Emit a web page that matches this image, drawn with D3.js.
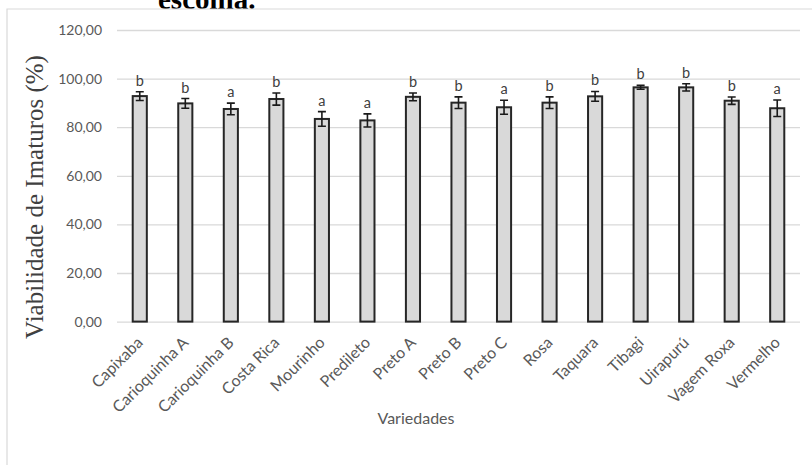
<!DOCTYPE html>
<html>
<head>
<meta charset="utf-8">
<script src="https://cdn.jsdelivr.net/npm/d3@7"></script>
<style>
  html, body { margin: 0; padding: 0; background: #fff; }
  svg { display: block; }
</style>
</head>
<body>
<svg id="chart" width="812" height="465"></svg>
<script>
// Viabilidade de imaturos por variedade (média ± erro, letras de agrupamento)
const categories = ["Capixaba", "Carioquinha A", "Carioquinha B", "Costa Rica", "Mourinho",
  "Predileto", "Preto A", "Preto B", "Preto C", "Rosa", "Taquara", "Tibagi", "Uirapurú",
  "Vagem Roxa", "Vermelho"];
const means = [92.8, 89.8, 87.5, 91.6, 83.4, 82.8, 92.5, 90.1, 88.2, 90.1, 92.7, 96.4, 96.4, 90.9, 87.8];
const errors = [1.8, 2.0, 2.4, 2.5, 3.0, 2.7, 1.6, 2.4, 2.9, 2.4, 2.0, 0.8, 1.5, 1.5, 3.4];
const letters = ["b", "b", "a", "b", "a", "a", "b", "b", "a", "b", "b", "b", "b", "b", "a"];
const yTicks = [0, 20, 40, 60, 80, 100, 120];

const svg = d3.select("#chart");
const sans = "Lato, 'Open Sans', sans-serif";
const serif = "'Liberation Serif', 'DejaVu Serif', serif";

// Trailing line of the surrounding document text
svg.append("text")
  .attr("x", 158).attr("y", 9)
  .attr("font-family", serif).attr("font-weight", "bold")
  .attr("font-size", 29).attr("fill", "#000")
  .text("escolha.");

// Chart area border
svg.append("path")
  .attr("d", "M7,465 V9 H812")
  .attr("fill", "none").attr("stroke", "#d9d9d9").attr("stroke-width", 1.2);

const plot = { left: 117, right: 800, top: 30, bottom: 321.6 };

const x = d3.scaleBand().domain(categories)
  .range([plot.left, plot.right])
  .paddingInner(0.69).paddingOuter(0.345);
const y = d3.scaleLinear().domain([0, 120]).range([plot.bottom, plot.top]);

const ptBR = d3.formatLocale({ decimal: ",", thousands: ".", grouping: [3], currency: ["R$", ""] });
const fmt = ptBR.format(".2f");

// Gridlines + y tick labels
const yAxis = d3.axisLeft(y).tickValues(yTicks).tickFormat(fmt)
  .tickSize(-(plot.right - plot.left)).tickPadding(15);
const gy = svg.append("g").attr("transform", `translate(${plot.left},0)`).call(yAxis);
gy.select(".domain").remove();
gy.selectAll(".tick line").attr("stroke", "#d9d9d9").attr("stroke-width", 1.3);
gy.selectAll(".tick text")
  .attr("font-family", sans).attr("font-size", 14).attr("fill", "#595959");

// Bars
svg.append("g").selectAll("rect")
  .data(categories)
  .join("rect")
  .attr("x", d => x(d))
  .attr("y", (d, i) => y(means[i]))
  .attr("width", x.bandwidth())
  .attr("height", (d, i) => y(0) - y(means[i]))
  .attr("fill", "#d9d9d9")
  .attr("stroke", "#262626")
  .attr("stroke-width", 2);

// Error bars
const eb = svg.append("g").attr("stroke", "#1a1a1a").attr("stroke-width", 1.6).attr("fill", "none");
const cap = 4;
eb.selectAll("path")
  .data(categories)
  .join("path")
  .attr("d", (d, i) => {
    const cx = x(d) + x.bandwidth() / 2;
    const hi = y(means[i] + errors[i]);
    const lo = y(means[i] - errors[i]);
    return `M${cx},${hi} V${lo} M${cx - cap},${hi} H${cx + cap} M${cx - cap},${lo} H${cx + cap}`;
  });

// Grouping letters
svg.append("g").selectAll("text")
  .data(categories)
  .join("text")
  .attr("x", d => x(d) + x.bandwidth() / 2)
  .attr("y", (d, i) => y(means[i] + errors[i]) - 6)
  .attr("text-anchor", "middle")
  .attr("font-family", sans).attr("font-size", 14.5).attr("fill", "#404040")
  .text((d, i) => letters[i]);

// Category labels, rotated
const xAxis = d3.axisBottom(x).tickSize(0).tickPadding(0);
const gx = svg.append("g").attr("transform", `translate(0,${plot.bottom})`).call(xAxis);
gx.select(".domain").remove();
gx.selectAll(".tick text")
  .attr("font-family", sans).attr("font-size", 16).attr("fill", "#595959")
  .attr("text-anchor", "end")
  .attr("dy", null)
  .attr("transform", "translate(4,22) rotate(-45)");

// Axis titles
svg.append("text")
  .attr("x", 416).attr("y", 424)
  .attr("text-anchor", "middle")
  .attr("font-family", sans).attr("font-size", 16).attr("fill", "#595959")
  .text("Variedades");

svg.append("text")
  .attr("transform", "translate(43,197) rotate(-90)")
  .attr("text-anchor", "middle")
  .attr("font-family", serif).attr("font-size", 25).attr("fill", "#404040")
  .text("Viabilidade de Imaturos (%)");
</script>
</body>
</html>
